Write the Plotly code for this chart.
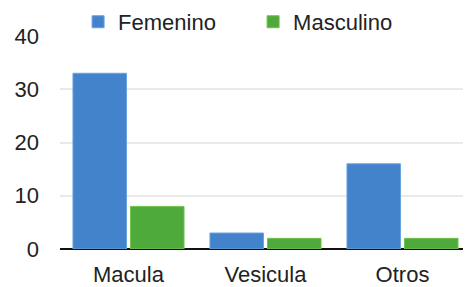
import plotly.graph_objects as go

categories = ["Macula", "Vesicula", "Otros"]
femenino = [33, 3, 16]
masculino = [8, 2, 2]
y_ticks = [0, 10, 20, 30, 40]

fig = go.Figure()
fig.add_trace(go.Bar(
    x=categories, y=femenino, name="Femenino",
    marker=dict(color="#4383cb", line=dict(color="#6aa3dd", width=1)),
))
fig.add_trace(go.Bar(
    x=categories, y=masculino, name="Masculino",
    marker=dict(color="#4daa3b", line=dict(color="#72c24f", width=1)),
))

fig.update_layout(
    width=463, height=279,
    margin=dict(l=52, r=0, t=28, b=38, autoexpand=False),
    paper_bgcolor="white", plot_bgcolor="white",
    font=dict(family="Liberation Sans, Arial, sans-serif", size=22, color="#222222"),
    barmode="group", bargap=0.16, bargroupgap=0.07,
    showlegend=True,
    legend=dict(
        orientation="h", x=0.044, xanchor="left",
        y=1.066, yanchor="middle",
        font=dict(size=22, color="#222222"), bgcolor="rgba(0,0,0,0)",
        itemwidth=30, entrywidth=130,
    ),
    xaxis=dict(
        range=[-0.5, 2.5], showgrid=False, showline=False, ticks="",
        tickfont=dict(size=22), fixedrange=True, automargin=False,
        ticklabelstandoff=10,
    ),
    yaxis=dict(
        range=[0, 40], tickvals=y_ticks, showgrid=True, gridcolor="#e9e9e9",
        gridwidth=2, zeroline=True, zerolinecolor="#111111", zerolinewidth=2,
        showline=False, ticks="", ticklabelstandoff=20, tickfont=dict(size=22),
        fixedrange=True, automargin=False,
    ),
)
fig.write_html("out.html")
